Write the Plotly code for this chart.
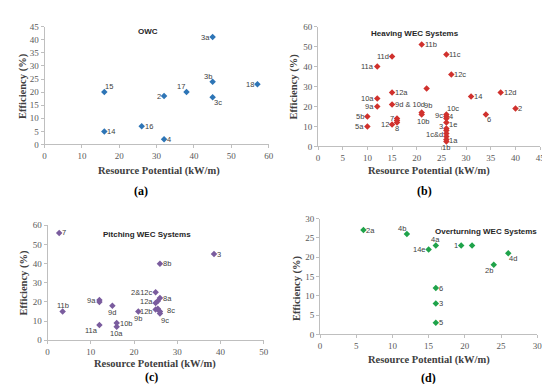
import plotly.graph_objects as go

# (a) OWC
owc_labels = ["3a", "3b", "3c", "18", "17", "2", "15", "16", "14", "4"]
owc_x = [45, 45, 45, 57, 38, 32, 16, 26, 16, 32]
owc_y = [41, 24, 18, 23, 20, 18.5, 20, 7, 5, 2]
owc_pos = ["middle left", "top left", "bottom right", "middle left", "top left",
           "middle left", "top right", "middle right", "middle right", "middle right"]

# (b) Heaving
hv_labels = ["11b", "11d", "11c", "11a", "12c", "", "12a", "14", "12d", "10a", "9a",
             "9d & 10d", "9b", "10b", "10c", "9c", "4", "1e", "5b", "7", "", "8", "12",
             "5a", "6", "2", "3", "", "1c&d", "", "1a", "1b"]
hv_x = [21, 15, 26, 12, 27, 22, 15, 31, 37, 12, 12, 15, 21, 21, 26, 26, 26, 26, 10,
        16, 16, 16, 15, 10, 34, 40, 26, 26, 26, 26, 26, 26]
hv_y = [51, 45, 46, 40, 36, 29, 27, 25, 27, 24, 20, 21, 17, 16, 16, 15, 14, 12, 15,
        14, 13, 12, 11, 10, 16, 19, 9, 8, 6.5, 5, 3.5, 2.5]
hv_pos = ["middle right", "middle left", "middle right", "middle left", "middle right",
          "middle right", "middle right", "middle right", "middle right", "middle left",
          "middle left", "middle right", "top right", "bottom center", "top right",
          "middle left", "middle right", "middle right", "middle left", "middle left",
          "middle right", "bottom center", "middle left", "middle left", "bottom right",
          "middle right", "middle left", "middle right", "middle left", "middle right",
          "middle right", "bottom center"]

# (c) Pitching
pt_labels = ["7", "3", "8b", "2&12c", "8a", "12a", "", "12b", "", "8c", "9c", "9b",
             "9a", "", "9d", "11b", "11a", "10a", "10b"]
pt_x = [2.7, 38.5, 26, 25, 26, 25, 25.5, 25, 25.5, 26, 26, 21, 12, 12, 15, 3.5, 12, 16, 16]
pt_y = [56, 45, 40, 25, 22, 19.5, 20.5, 16, 16.5, 15, 14, 15, 21, 20, 18, 15, 8, 7, 9]
pt_pos = ["middle right", "middle right", "middle right", "middle left", "middle right",
          "middle left", "middle right", "middle left", "middle right", "middle right",
          "bottom right", "bottom center", "middle left", "middle left", "bottom center",
          "top center", "bottom left", "bottom center", "middle right"]

# (d) Overturning
ov_labels = ["2a", "4b", "4a", "14e", "1", "", "4d", "2b", "6", "3", "5"]
ov_x = [6, 12, 16, 15, 19.5, 21, 26, 24, 16, 16, 16]
ov_y = [27, 26, 23, 22, 23, 23, 21, 18, 12, 8, 3]
ov_pos = ["middle right", "top left", "top center", "middle left", "middle left",
          "middle right", "bottom right", "bottom left", "middle right", "middle right",
          "middle right"]

W, H = 550, 384


def px(x):
    return x / W


def py(y):
    return 1 - y / H


# label placement: (xanchor, yanchor, xshift, yshift)
PLACE = {
    "middle left": ("right", "middle", -2, 0),
    "middle right": ("left", "middle", 2, 0),
    "top left": ("right", "bottom", 0, 0),
    "top right": ("left", "bottom", 0, 0),
    "bottom left": ("right", "top", 0, 0),
    "bottom right": ("left", "top", 0, 0),
    "top center": ("center", "bottom", 0, 1),
    "bottom center": ("center", "top", 0, -1),
}
# small extra nudges (panel index, label) -> (dx, dy) in pixels
NUDGE = {(1, "4"): (0, 2), (1, "1e"): (0, -2), (1, "3"): (0, 2),
         (1, "1c&d"): (0, -1), (1, "9c"): (0, 0.5), (1, "10b"): (2, -1),
         (1, "1a"): (0, -1), (1, "9b"): (1, 1),
         (2, "12a"): (0, 1.5), (2, "12b"): (0, -1.5),
         (2, "8c"): (4, 1), (2, "9c"): (0, -1.5)}

panels = [
    (owc_x, owc_y, owc_labels, owc_pos, "#2E75B6", (35, 262), (14, 135), [0, 60], [0, 45], 10, 5),
    (hv_x, hv_y, hv_labels, hv_pos, "#D0312D", (312, 537), (14, 137), [0, 45], [0, 60], 5, 10),
    (pt_x, pt_y, pt_labels, pt_pos, "#7A5C9E", (38, 257), (218, 336), [0, 50], [0, 60], 10, 10),
    (ov_x, ov_y, ov_labels, ov_pos, "#1FA34A", (314, 534), (211, 330), [0, 30], [0, 30], 5, 5),
]

fig = go.Figure()
layout = dict(width=W, height=H, margin=dict(l=0, r=0, t=0, b=0),
              paper_bgcolor="white", plot_bgcolor="white", showlegend=False)
ann = []

for i, (xs, ys, labs, pos, col, xd, yd, xr, yr, dx, dy) in enumerate(panels):
    n = "" if i == 0 else str(i + 1)
    fig.add_trace(go.Scatter(
        x=xs, y=ys, mode="markers",
        marker=dict(symbol="diamond", size=5, color=col),
        xaxis="x" + n, yaxis="y" + n, cliponaxis=False, hoverinfo="x+y"))
    for x, y, t, p in zip(xs, ys, labs, pos):
        if not t:
            continue
        xa, ya, xs_, ys_ = PLACE[p]
        ndx, ndy = NUDGE.get((i, t), (0, 0))
        ann.append(dict(text=t, x=x, y=y, xref="x" + n, yref="y" + n, showarrow=False,
                        xanchor=xa, yanchor=ya, xshift=xs_ + ndx, yshift=ys_ + ndy,
                        borderpad=0,
                        font=dict(family="Liberation Sans", size=7.5, color="#404040")))
    ax = dict(showgrid=False, zeroline=False, showline=True, linecolor="#BFBFBF",
              linewidth=1, ticks="outside", ticklen=3, tickcolor="#BFBFBF",
              tickfont=dict(family="Liberation Serif", size=9, color="#595959"))
    layout["xaxis" + n] = dict(ax, domain=[px(xd[0]), px(xd[1])], range=xr, dtick=dx,
                               anchor="y" + n)
    layout["yaxis" + n] = dict(ax, domain=[py(yd[1]), py(yd[0])], range=yr, dtick=dy,
                               anchor="x" + n)

fig.update_layout(**layout)


def add(text, x, y, font, angle=0):
    ann.append(dict(text=text, x=px(x), y=py(y), xref="paper", yref="paper",
                    xanchor="center", yanchor="middle", showarrow=False,
                    textangle=angle, font=font))


titles = [("OWC", 140, 19), ("Heaving WEC Systems", 410, 21),
          ("Pitching WEC Systems", 139, 227), ("Overturning WEC Systems", 482, 224)]
for t, x, y in titles:
    add("<b>" + t + "</b>", x, y, dict(family="Liberation Sans", size=8, color="#262626"))

for x, y in [(151, 162), (424, 162), (147, 360), (424, 356)]:
    add("<b>Resource Potential (kW/m)</b>", x, y,
        dict(family="Liberation Serif", size=10.5, color="#404040"))
for x, y in [(13, 75), (288, 75), (14, 277), (290, 282)]:
    add("<b>Efficiency (%)</b>", x, y,
        dict(family="Liberation Serif", size=10.5, color="#404040"), -90)
for t, x, y in [("(a)", 133, 183), ("(b)", 420, 183), ("(c)", 143, 374), ("(d)", 424, 375)]:
    add("<b>" + t + "</b>", x, y, dict(family="Liberation Serif", size=12, color="#000000"))

fig.update_layout(annotations=ann)
fig.write_html("out.html")
